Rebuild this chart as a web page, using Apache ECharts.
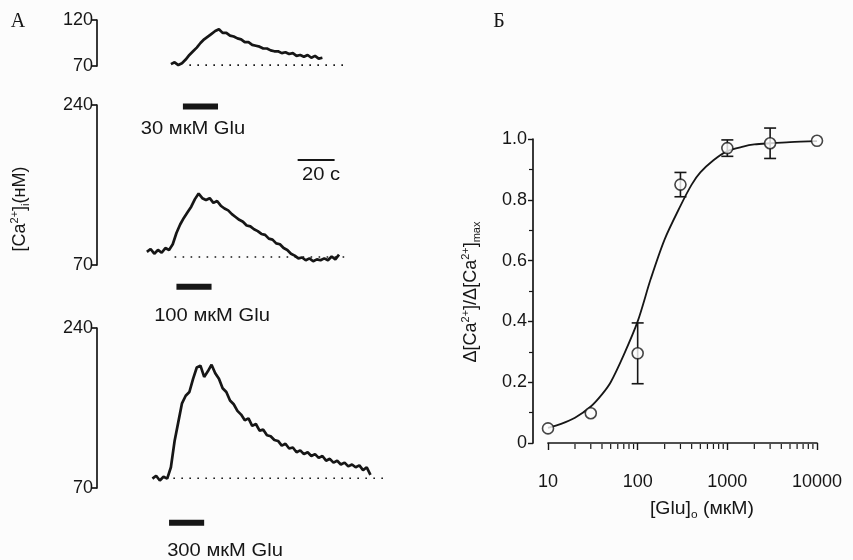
<!DOCTYPE html>
<html>
<head>
<meta charset="utf-8">
<script src="https://cdn.jsdelivr.net/npm/echarts@6/dist/echarts.min.js"></script>
<style>
html, body { margin: 0; padding: 0; background: #fcfcfc; }
#chart { width: 853px; height: 560px; }
</style>
</head>
<body>
<div id="chart"></div>
<script>
// panel A: [Ca2+]i traces (nM), one sample every 2 s
var traceStep = 2;
var traceStart = [40, 27, 30];
var trace1 = [72,74,71,73,77,82,86,90,95,99,102,105,108,110,106,106,103,102,100,99,96,96,93,92,91,89,89,87,86,86,84,85,83,84,81,82,80,82,79,81,78,79];
var trace2 = [84,87,82,86,83,88,86,92,104,113,120,126,132,140,146,141,139,141,136,138,133,130,128,124,121,118,116,112,111,108,106,103,102,98,97,93,92,88,86,82,80,77,78,75,77,74,76,75,77,75,79,76,81];
var trace3 = [80,83,78,82,80,92,120,140,160,168,172,186,198,200,188,194,201,192,186,176,172,163,159,152,148,142,144,136,138,131,132,126,125,121,120,115,117,112,113,108,110,106,108,104,106,102,104,99,101,97,99,95,97,93,95,92,94,89,92,84];
var traceMax = [120, 240, 240];
var baseLevel = [71, 78.5, 80.3];
var baseSpan = [[50, 135], [42, 135], [37, 156]];
// glutamate application, s
var stimuli = [[46.5, 65.5], [43, 62], [39, 58]];
var stimNames = ['30 мкМ Glu', '100 мкМ Glu', '300 мкМ Glu'];
var scaleBar = [108.6, 128.6];

// panel B: dose-response
var glu = [10, 30, 100, 300, 1000, 3000, 10000];
var resp = [0.048, 0.098, 0.295, 0.85, 0.97, 0.986, 0.994];
var respErr = [0, 0, 0.1, 0.04, 0.027, 0.05, 0];
var fitX = [10, 14, 20, 30, 40, 50, 70, 100, 140, 200, 300, 400, 500, 700, 1000, 1500, 2000, 3000, 5000, 10000];
var fitY = [0.05, 0.063, 0.083, 0.12, 0.16, 0.2, 0.29, 0.40, 0.54, 0.67, 0.78, 0.85, 0.89, 0.93, 0.96, 0.975, 0.982, 0.986, 0.99, 0.993];
var xMinor = [20,30,40,50,60,70,80,90,200,300,400,500,600,700,800,900,2000,3000,4000,5000,6000,7000,8000,9000];

var ink = '#161616';
var font = 'Liberation Sans';
var traces = [trace1, trace2, trace3];
var stimY = [26, 47, 33];

var chart = echarts.init(document.getElementById('chart'));

var grids = [
    {left: 97, top: 20, width: 303, height: 46},
    {left: 97, top: 105, width: 303, height: 160},
    {left: 97, top: 328, width: 303, height: 160},
    {left: 548, top: 139, width: 269, height: 304}
];
var xAxes = [], yAxes = [], series = [];

traces.forEach(function (tr, i) {
    xAxes.push({gridIndex: i, type: 'value', min: 0, max: 164, show: false});
    yAxes.push({
        gridIndex: i, type: 'value', min: 70, max: traceMax[i],
        axisLine: {show: true, lineStyle: {color: ink, width: 1.7}},
        axisTick: {show: true, length: 6, customValues: [70, traceMax[i]], lineStyle: {color: ink, width: 1.7}},
        axisLabel: {customValues: [70, traceMax[i]], color: ink, fontSize: 18, fontFamily: font, margin: 4},
        splitLine: {show: false}
    });
    series.push({
        type: 'line', xAxisIndex: i, yAxisIndex: i, symbol: 'none',
        data: tr.map(function (v, k) { return [traceStart[i] + k * traceStep, v]; }),
        lineStyle: {color: ink, width: 2.7}
    });
    series.push({
        type: 'line', xAxisIndex: i, yAxisIndex: i, symbol: 'none',
        data: [[baseSpan[i][0], baseLevel[i]], [baseSpan[i][1], baseLevel[i]]],
        lineStyle: {color: ink, width: 1.6, type: [1.6, 6.4]}
    });
    series.push({
        type: 'line', xAxisIndex: i, yAxisIndex: i, symbol: 'none', clip: false,
        data: [[stimuli[i][0], stimY[i]], [stimuli[i][1], stimY[i]]],
        lineStyle: {color: ink, width: 6, cap: 'butt'}
    });
});

// 20 s scale bar sits in the middle trace's frame
series.push({
    type: 'line', xAxisIndex: 1, yAxisIndex: 1, symbol: 'none',
    data: [[scaleBar[0], 181.6], [scaleBar[1], 181.6]],
    lineStyle: {color: ink, width: 2}
});

xAxes.push({
    gridIndex: 3, type: 'log', logBase: 10, min: 10, max: 10000, offset: 1,
    axisLine: {show: true, lineStyle: {color: ink, width: 1.7}},
    axisTick: {show: true, length: 7, lineStyle: {color: ink, width: 1.4}},
    axisLabel: {color: ink, fontSize: 18, fontFamily: font, margin: 29,
        formatter: function (v) { return String(Math.round(v)); }},
    splitLine: {show: false}
});
yAxes.push({
    gridIndex: 3, type: 'value', min: 0, max: 1, interval: 0.2, offset: 15,
    axisLine: {show: true, lineStyle: {color: ink, width: 1.7}},
    axisTick: {show: true, length: 5, lineStyle: {color: ink, width: 1.4}},
    minorTick: {show: true, splitNumber: 2, length: 4, lineStyle: {color: ink, width: 1.2}},
    axisLabel: {color: ink, fontSize: 18, fontFamily: font, margin: 6,
        formatter: function (v) { return v === 0 ? '0' : v.toFixed(1); }},
    splitLine: {show: false}
});

series.push({
    type: 'custom', xAxisIndex: 3, yAxisIndex: 3, clip: false, z: 1,
    data: xMinor.map(function (v) { return [v, 0]; }),
    renderItem: function (params, api) {
        var p = api.coord([api.value(0), 0]);
        return {type: 'line', shape: {x1: p[0], y1: p[1] + 1, x2: p[0], y2: p[1] + 6},
            style: {stroke: ink, lineWidth: 1.2}};
    }
});
series.push({
    type: 'line', xAxisIndex: 3, yAxisIndex: 3, symbol: 'none', smooth: 0.3, z: 2,
    data: fitX.map(function (x, k) { return [x, fitY[k]]; }),
    lineStyle: {color: ink, width: 1.8}
});
series.push({
    type: 'custom', xAxisIndex: 3, yAxisIndex: 3, clip: false, z: 3,
    data: glu.map(function (x, k) { return [x, resp[k] - respErr[k], resp[k] + respErr[k]]; })
        .filter(function (d, k) { return respErr[k] > 0; }),
    renderItem: function (params, api) {
        var lo = api.coord([api.value(0), api.value(1)]);
        var hi = api.coord([api.value(0), api.value(2)]);
        var st = {stroke: ink, lineWidth: 1.6};
        return {type: 'group', children: [
            {type: 'line', shape: {x1: lo[0], y1: lo[1], x2: hi[0], y2: hi[1]}, style: st},
            {type: 'line', shape: {x1: lo[0] - 6, y1: lo[1], x2: lo[0] + 6, y2: lo[1]}, style: st},
            {type: 'line', shape: {x1: hi[0] - 6, y1: hi[1], x2: hi[0] + 6, y2: hi[1]}, style: st}
        ]};
    }
});
series.push({
    type: 'scatter', xAxisIndex: 3, yAxisIndex: 3, symbol: 'circle', symbolSize: 11, z: 5,
    data: glu.map(function (x, k) { return [x, resp[k]]; }),
    itemStyle: {color: '#fcfcfc', borderColor: ink, borderWidth: 1.6}
});

function label(x, y, text, size) {
    return {type: 'text', x: x, y: y, scaleX: 1.12,
        style: {text: text, fill: ink, fontSize: size || 18, fontFamily: font,
            textAlign: 'center', textVerticalAlign: 'middle'}};
}
var supSub = {
    a: {fontSize: 18, fontFamily: font, fill: ink, lineHeight: 22},
    sup: {fontSize: 11, fontFamily: font, fill: ink, verticalAlign: 'top', lineHeight: 11},
    sub: {fontSize: 11, fontFamily: font, fill: ink, verticalAlign: 'bottom', lineHeight: 11}
};

var graphics = [
    {type: 'text', x: 18, y: 22, style: {text: 'A', fill: ink, fontSize: 20, fontFamily: 'Liberation Serif', textAlign: 'center', textVerticalAlign: 'middle'}},
    {type: 'text', x: 499, y: 22, style: {text: 'Б', fill: ink, fontSize: 20, fontFamily: 'Liberation Serif', textAlign: 'center', textVerticalAlign: 'middle'}},
    label(193, 129, stimNames[0]),
    label(212, 316, stimNames[1]),
    label(225, 551, stimNames[2]),
    label(321, 175, '20 c'),
    {type: 'text', x: 20, y: 209, rotation: Math.PI / 2,
        style: {text: '{a|[Ca}{sup|2+}{a|]}{sub|i}{a|(нМ)}', rich: supSub, textAlign: 'center', textVerticalAlign: 'middle'}},
    {type: 'text', x: 471, y: 292, rotation: Math.PI / 2,
        style: {text: '{a|Δ[Ca}{sup|2+}{a|]/Δ[Ca}{sup|2+}{a|]}{sub|max}', rich: supSub, textAlign: 'center', textVerticalAlign: 'middle'}},
    {type: 'text', x: 702, y: 509, scaleX: 1.08,
        style: {text: '{a|[Glu]}{sub|o}{a| (мкМ)}', rich: supSub, textAlign: 'center', textVerticalAlign: 'middle'}}
];

chart.setOption({
    animation: false,
    backgroundColor: '#fcfcfc',
    grid: grids,
    xAxis: xAxes,
    yAxis: yAxes,
    series: series,
    graphic: graphics
});
</script>
</body>
</html>
